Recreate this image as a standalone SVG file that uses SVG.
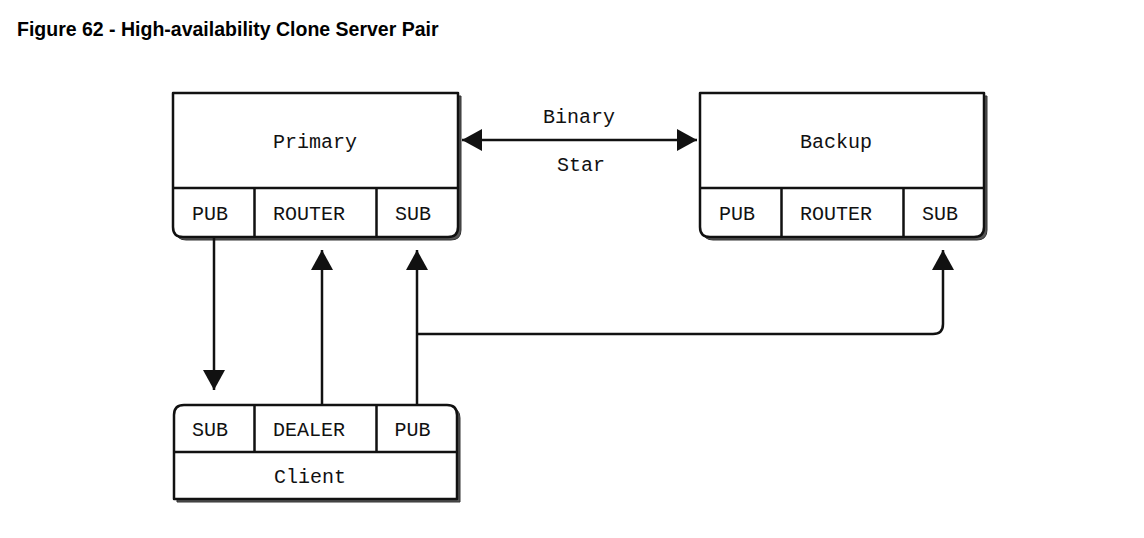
<svg xmlns="http://www.w3.org/2000/svg" width="1144" height="538" viewBox="0 0 1144 538">
<style>
.title{font-family:"Liberation Sans",Arial,sans-serif;font-weight:bold;font-size:19.5px;fill:#000}
.t{font-family:"Liberation Mono","Courier New",monospace;font-size:20px;fill:#111;text-anchor:middle}
.shadow{fill:#555;stroke:#333;stroke-width:1}
.box{fill:#fff;stroke:#111;stroke-width:2.5;stroke-linejoin:round}
.div{stroke:#111;stroke-width:2.5;fill:none}
.conn{stroke:#111;stroke-width:2.5;fill:none}
</style>
<defs>
<marker id="ah" viewBox="0 0 20 22" refX="20" refY="11" markerWidth="20" markerHeight="22" markerUnits="userSpaceOnUse" orient="auto-start-reverse">
<path d="M0,0 L20,11 L0,22 Z" fill="#111"/>
</marker>
</defs>
<rect width="1144" height="538" fill="#fff"/>
<text class="title" x="17" y="36">Figure 62 - High-availability Clone Server Pair</text>

<g id="primary">
<path class="shadow" d="M176,96 H461 V230 Q461,240 451,240 H186 Q176,240 176,230 Z"/>
<path class="box" d="M173,93 H458 V227 Q458,237 448,237 H183 Q173,237 173,227 Z"/>
<path class="div" d="M173,188 H458 M254.5,188 V237 M376.5,188 V237"/>
<text class="t" x="315" y="148">Primary</text>
<text class="t" x="210" y="220">PUB</text>
<text class="t" x="309" y="220">ROUTER</text>
<text class="t" x="413" y="220">SUB</text>
</g>

<g id="backup">
<path class="shadow" d="M703,96 H987 V230 Q987,240 977,240 H713 Q703,240 703,230 Z"/>
<path class="box" d="M700,93 H984 V227 Q984,237 974,237 H710 Q700,237 700,227 Z"/>
<path class="div" d="M700,188 H984 M781.5,188 V237 M903.5,188 V237"/>
<text class="t" x="836" y="148">Backup</text>
<text class="t" x="737" y="220">PUB</text>
<text class="t" x="836" y="220">ROUTER</text>
<text class="t" x="940" y="220">SUB</text>
</g>

<g id="client">
<path class="shadow" d="M177,418 Q177,408 187,408 H450 Q460,408 460,418 V502 H177 Z"/>
<path class="box" d="M174,415 Q174,405 184,405 H447 Q457,405 457,415 V499 H174 Z"/>
<path class="div" d="M174,452 H457 M254.5,405 V452 M376.5,405 V452"/>
<text class="t" x="210" y="436">SUB</text>
<text class="t" x="309" y="436">DEALER</text>
<text class="t" x="412.5" y="436">PUB</text>
<text class="t" x="310" y="483">Client</text>
</g>

<g id="connectors">
<line class="conn" x1="214" y1="238" x2="214" y2="390" marker-end="url(#ah)"/>
<line class="conn" x1="322" y1="405" x2="322" y2="250" marker-end="url(#ah)"/>
<line class="conn" x1="417" y1="405" x2="417" y2="250" marker-end="url(#ah)"/>
<path class="conn" d="M417,334 H933 Q943,334 943,324 V250" marker-end="url(#ah)"/>
<line class="conn" x1="462" y1="140" x2="697" y2="140" marker-start="url(#ah)" marker-end="url(#ah)"/>
<text class="t" x="579" y="123">Binary</text>
<text class="t" x="581" y="171">Star</text>
</g>
</svg>
